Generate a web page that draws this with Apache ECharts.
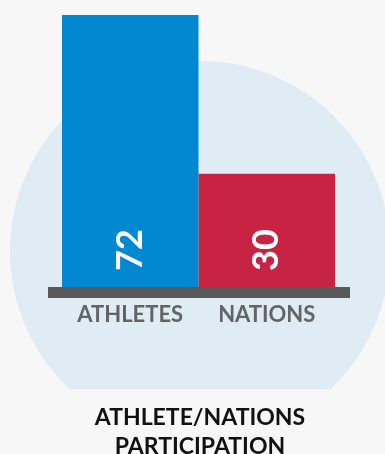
<!DOCTYPE html>
<html>
<head>
<meta charset="utf-8">
<script src="https://cdn.jsdelivr.net/npm/echarts@6/dist/echarts.min.js"></script>
<style>
  html, body { margin: 0; padding: 0; background: #f7f7f8; }
  #chart { width: 385px; height: 454px; }
</style>
</head>
<body>
<div id="chart"></div>
<script>
const categories = ['ATHLETES', 'NATIONS'];
const values = [72, 30];
const barColors = ['#0288d1', '#c92344'];
const titleLines = ['ATHLETE/NATIONS', 'PARTICIPATION'];

// backdrop circle, cut flat at the bottom
const cx = 200, cy = 251, r = 190, cutY = 389;
let a0 = Math.asin((cutY - cy) / r);
let start = Math.PI - a0, end = 2 * Math.PI + a0;
let circlePts = [];
for (let i = 0; i <= 160; i++) {
    let t = start + (end - start) * i / 160;
    circlePts.push([cx + r * Math.cos(t), cy + r * Math.sin(t)]);
}

let chart = echarts.init(document.getElementById('chart'));
chart.setOption({
    backgroundColor: '#f7f7f8',
    animation: false,
    title: {
        text: titleLines.join('\n'),
        left: 195,
        textAlign: 'center',
        top: 398,
        textStyle: {
            fontFamily: 'Lato',
            fontWeight: 'bold',
            fontSize: 23,
            lineHeight: 29,
            color: '#111111'
        }
    },
    grid: {
        left: 62,
        right: 50,
        top: 15,
        bottom: 167
    },
    xAxis: {
        type: 'category',
        data: categories,
        axisLine: {show: false},
        axisTick: {show: false},
        axisLabel: {
            interval: 0,
            margin: 17,
            fontFamily: 'Lato',
            fontWeight: 'bold',
            fontSize: 22,
            color: '#636466'
        }
    },
    yAxis: {
        type: 'value',
        min: 0,
        max: 72,
        show: false,
        splitLine: {show: false}
    },
    graphic: {
        elements: [
            {
                type: 'polygon', z: -10, silent: true,
                shape: {points: circlePts},
                style: {fill: '#e0ecf4'}
            },
            {
                type: 'rect', z: 10, silent: true,
                shape: {x: 48, y: 287, width: 302, height: 11},
                style: {fill: '#58595b'}
            }
        ]
    },
    series: [{
        type: 'bar',
        barWidth: '100%',
        data: values.map((v, i) => ({value: v, itemStyle: {color: barColors[i]}})),
        label: {
            show: true,
            position: 'insideBottom',
            distance: 16,
            rotate: 90,
            align: 'left',
            verticalAlign: 'middle',
            fontFamily: 'Lato',
            fontWeight: 'bold',
            fontSize: 36,
            color: '#ffffff'
        }
    }]
});
</script>
</body>
</html>
